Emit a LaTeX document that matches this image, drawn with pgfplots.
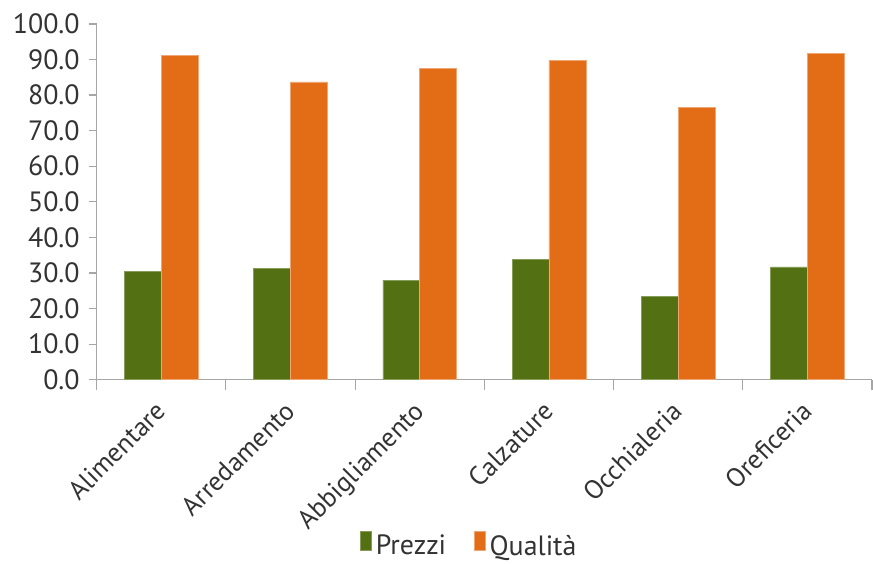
\documentclass[border=0pt]{standalone}
\usepackage{pgfplots}
\pgfplotsset{compat=1.18}
\usepackage{fontspec}
\setmainfont{PT Sans}
\definecolor{cgreen}{HTML}{537112}
\definecolor{corange}{HTML}{E36D17}
\definecolor{axgray}{HTML}{A6A6A6}
\definecolor{txt}{HTML}{333333}
\begin{document}
\fontsize{13}{15}\selectfont
\begin{tikzpicture}
\begin{axis}[
  name=ax, at={(0,0)}, anchor=south west,
  scale only axis, width=389pt, height=178.5pt,
  ybar=0pt, bar width=18.5pt,
  xmin=-0.5, xmax=5.5, ymin=0, ymax=100,
  axis x line*=bottom, axis y line*=left,
  axis line style={draw=axgray, line width=0.6pt},
  tick style={draw=axgray, line width=0.6pt},
  tick align=outside,
  major tick length=4pt, minor tick length=5pt,
  major x tick style={draw=none},
  ytick={0,10,...,100},
  yticklabel={\pgfmathprintnumber[fixed,fixed zerofill,precision=1]{\tick}},
  /pgf/number format/assume math mode=true,
  xtick={0,...,5},
  minor xtick={-0.5,0.5,...,5.5},
  xticklabels={Alimentare,Arredamento,Abbigliamento,Calzature,Occhialeria,Oreficeria},
  xticklabel style={rotate=45, anchor=north east, inner sep=1pt, yshift=-0.6pt, xshift=-5.8pt, font=\fontsize{13.3}{15}\selectfont, text=txt},
  yticklabel style={font=\fontsize{14}{15}\selectfont, text=txt},
  legend style={draw=none, inner sep=0pt, at={(0.482,-0.47)}, anchor=center, legend columns=2,
    /tikz/every even column/.append style={column sep=12pt}, font=\fontsize{14}{15}\selectfont, text=txt},
  legend image code/.code={\fill[#1] (0pt,-1.5pt) rectangle (5.5pt,8pt);},
]
\addplot[fill=cgreen, draw=cgreen!70!white, line width=0.3pt] coordinates {(0,30.5) (1,31.3) (2,28.0) (3,33.8) (4,23.4) (5,31.7)};
\addplot[fill=corange, draw=corange!60!white, line width=0.3pt] coordinates {(0,91.1) (1,83.7) (2,87.6) (3,89.8) (4,76.6) (5,91.6)};
\legend{Prezzi,Qualità}
\end{axis}
\pgfresetboundingbox
\path (-48.5pt,-92pt) rectangle (389.5pt,190.5pt);
\end{tikzpicture}
\end{document}
